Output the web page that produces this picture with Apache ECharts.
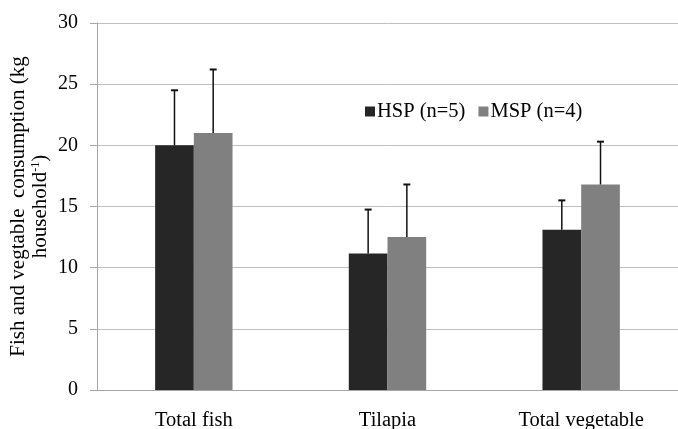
<!DOCTYPE html>
<html><head><meta charset="utf-8">
<script src="https://cdn.jsdelivr.net/npm/echarts@6/dist/echarts.min.js"></script>
<style>html,body{margin:0;padding:0;background:#fff}#c{width:678px;height:429px}</style>
</head><body><div id="c"></div>
<script>
var categories = ['Total fish', 'Tilapia', 'Total vegetable'];
var hspValues = [20.0, 11.15, 13.1];
var hspErrors = [4.5, 3.6, 2.4];
var mspValues = [21.0, 12.5, 16.8];
var mspErrors = [5.2, 4.3, 3.5];
var yTicks = [0, 5, 10, 15, 20, 25, 30];

var font = '"Liberation Serif", "Times New Roman", serif';
var chart = echarts.init(document.getElementById('c'));

function errSeries(vals, errs, idx) {
  var data = vals.map(function (v, i) { return [i, v, v + errs[i]]; });
  return {
    type: 'custom', z: 10, silent: true,
    data: data,
    renderItem: function (params, api) {
      var ci = api.value(0);
      var base = api.coord([ci, api.value(1)]);
      var top = api.coord([ci, api.value(2)]);
      var barW = 38.7;
      var x = base[0] + (idx === 0 ? -barW / 2 : barW / 2);
      return { type: 'group', children: [
        { type: 'line', shape: { x1: x, y1: base[1], x2: x, y2: top[1] }, style: { stroke: '#111', lineWidth: 1.5 } },
        { type: 'line', shape: { x1: x - 3.5, y1: top[1], x2: x + 3.5, y2: top[1] }, style: { stroke: '#111', lineWidth: 2 } }
      ]};
    }
  };
}

chart.setOption({
  animation: false,
  backgroundColor: '#fff',
  textStyle: { fontFamily: font },
  grid: { left: 97, right: 0, top: 23, bottom: 39, containLabel: false, outerBoundsMode: 'none' },
  legend: {
    left: 360, top: 96,
    itemWidth: 10, itemHeight: 10, itemGap: 13,
    icon: 'rect',
    textStyle: { fontFamily: font, fontSize: 20.5, color: '#000', padding: [0, 0, 0, -3] },
    data: ['HSP (n=5)', 'MSP (n=4)']
  },
  xAxis: {
    type: 'category', data: categories,
    axisLine: { lineStyle: { color: '#a6a6a6', width: 1 } },
    axisTick: { show: false },
    axisLabel: { fontFamily: font, fontSize: 20.5, color: '#000', margin: 20 }
  },
  yAxis: {
    type: 'value', min: 0, max: 30, interval: 5,
    axisLine: { show: true, lineStyle: { color: '#a6a6a6' } },
    axisTick: { show: true, length: 7, lineStyle: { color: '#a6a6a6' } },
    splitLine: { lineStyle: { color: '#bfbfbf' } },
    axisLabel: {
      fontFamily: font, fontSize: 20, color: '#000', margin: 19,
      formatter: function (v) { return yTicks.indexOf(v) >= 0 ? String(v) : ''; }
    },
    name: '{a|Fish and vegtable  consumption (kg}\n{a|household}{s|-1}{a|)}',
    nameLocation: 'middle', nameRotate: 90, nameGap: 46, nameMoveOverlap: false,
    nameTextStyle: {
      fontFamily: font, color: '#000', lineHeight: 22,
      rich: {
        a: { fontFamily: font, fontSize: 21, color: '#000', lineHeight: 22 },
        s: { fontFamily: font, fontSize: 12, color: '#000', lineHeight: 22, padding: [0, 0, 9, 0] }
      }
    }
  },
  series: [
    { name: 'HSP (n=5)', type: 'bar', data: hspValues, barWidth: 38.7, barGap: '0%',
      itemStyle: { color: '#262626' } },
    { name: 'MSP (n=4)', type: 'bar', data: mspValues, barWidth: 38.7, barGap: '0%',
      itemStyle: { color: '#808080' } },
    errSeries(hspValues, hspErrors, 0),
    errSeries(mspValues, mspErrors, 1)
  ]
});
</script></body></html>
